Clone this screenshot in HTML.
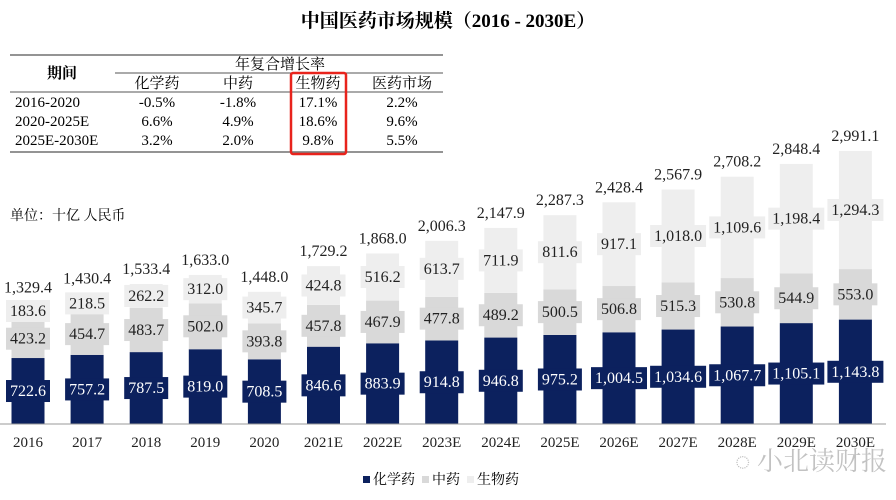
<!DOCTYPE html>
<html><head><meta charset="utf-8"><style>
body{margin:0;width:896px;height:495px;background:#fff;overflow:hidden;font-family:"Liberation Serif","Noto Serif CJK SC",serif;}
svg text{font-family:"Liberation Serif","Noto Serif CJK SC",serif;}
</style></head><body>
<svg width="896" height="495" id="c">
<text x="448" y="27" text-anchor="middle" font-size="19" font-weight="bold">中国医药市场规模（2016 - 2030E）</text>
<g font-size="15">
<line x1="10" y1="55" x2="443" y2="55" stroke="#555" stroke-width="1.2"/>
<line x1="115" y1="73" x2="443" y2="73" stroke="#555" stroke-width="1"/>
<line x1="10" y1="92" x2="443" y2="92" stroke="#555" stroke-width="1"/>
<line x1="10" y1="152" x2="443" y2="152" stroke="#555" stroke-width="1.2"/>
<text x="62" y="78" text-anchor="middle" font-weight="bold">期间</text>
<text x="280" y="69" text-anchor="middle">年复合增长率</text>
<text x="157" y="88" text-anchor="middle">化学药</text>
<text x="238" y="88" text-anchor="middle">中药</text>
<text x="318" y="88" text-anchor="middle">生物药</text>
<text x="402" y="88" text-anchor="middle">医药市场</text>
<text x="15" y="107">2016-2020</text><text x="157" y="107" text-anchor="middle">-0.5%</text><text x="238" y="107" text-anchor="middle">-1.8%</text><text x="318" y="107" text-anchor="middle">17.1%</text><text x="402" y="107" text-anchor="middle">2.2%</text>
<text x="15" y="126">2020-2025E</text><text x="157" y="126" text-anchor="middle">6.6%</text><text x="238" y="126" text-anchor="middle">4.9%</text><text x="318" y="126" text-anchor="middle">18.6%</text><text x="402" y="126" text-anchor="middle">9.6%</text>
<text x="15" y="145">2025E-2030E</text><text x="157" y="145" text-anchor="middle">3.2%</text><text x="238" y="145" text-anchor="middle">2.0%</text><text x="318" y="145" text-anchor="middle">9.8%</text><text x="402" y="145" text-anchor="middle">5.5%</text>
<rect x="291" y="73" width="55" height="81" rx="2" fill="none" stroke="#e8231c" stroke-width="2.5"/>
</g>
<text x="10" y="220" font-size="14">单位：十亿 人民币</text>
<g id="bars"></g>
<line x1="0" y1="424" x2="886" y2="424" stroke="#999" stroke-width="1"/>
<g font-size="14">
<rect x="363" y="476" width="7" height="7" fill="#0c215e"/><text x="373" y="484">化学药</text>
<rect x="422" y="476" width="7" height="7" fill="#d9d9d9"/><text x="432" y="484">中药</text>
<rect x="467" y="476" width="7" height="7" fill="#eeeeee"/><text x="477" y="484">生物药</text>
</g>
<text x="735" y="470" font-size="26" fill="#999" fill-opacity="0.6" font-family="Liberation Sans,Noto Sans CJK SC,sans-serif">◌ 小北读财报</text>
</svg>
<script>
const categories=["2016","2017","2018","2019","2020","2021E","2022E","2023E","2024E","2025E","2026E","2027E","2028E","2029E","2030E"];
const chem=[722.6,757.2,787.5,819.0,708.5,846.6,883.9,914.8,946.8,975.2,1004.5,1034.6,1067.7,1105.1,1143.8];
const tcm=[423.2,454.7,483.7,502.0,393.8,457.8,467.9,477.8,489.2,500.5,506.8,515.3,530.8,544.9,553.0];
const bio=[183.6,218.5,262.2,312.0,345.7,424.8,516.2,613.7,711.9,811.6,917.1,1018.0,1109.6,1198.4,1294.3];
const totals=[1329.4,1430.4,1533.4,1633.0,1448.0,1729.2,1868.0,2006.3,2147.9,2287.3,2428.4,2567.9,2708.2,2848.4,2991.1];
const base=424,k=0.0913,bw=33;
const y=v=>base-v*k, xc=i=>28+59.1*i;
const fmt=v=>v.toLocaleString('en-US',{minimumFractionDigits:1,maximumFractionDigits:1});
const g=document.getElementById('bars'),NS='http://www.w3.org/2000/svg';
function mk(t,a){const e=document.createElementNS(NS,t);for(const q in a)e.setAttribute(q,a[q]);g.appendChild(e);return e;}
function lbl(cx,cy,v,fill,tc){
 const w=v>=1000?56:44;
 const r=mk('rect',{x:cx-w/2,y:cy-11,width:w,height:22,fill:fill});
 
 
 const t=mk('text',{x:cx,y:cy+5,'text-anchor':'middle','font-size':16,fill:tc});
 t.textContent=fmt(v);
 
 
}
categories.forEach((c,i)=>{
 const cx=xc(i);
 const segs=[[0,chem[i],'#0c215e','#fff','bar-chemical'],[chem[i],chem[i]+tcm[i],'#d9d9d9','#222','bar-tcm'],[chem[i]+tcm[i],chem[i]+tcm[i]+bio[i],'#eeeeee','#222','bar-bio']];
 segs.forEach(s=>{
  const r=mk('rect',{x:cx-bw/2,y:y(s[1]),width:bw,height:y(s[0])-y(s[1]),fill:s[2]});
  
  
 });
 segs.forEach((s,j)=>lbl(cx,(y(s[0])+y(s[1]))/2,[chem,tcm,bio][j][i],s[2],s[3]));
 const tt=mk('text',{x:cx,y:y(totals[i])-10,'text-anchor':'middle','font-size':16,fill:'#222'});
 tt.textContent=fmt(totals[i]);
 
 
 const xl=mk('text',{x:cx,y:447,'text-anchor':'middle','font-size':15,fill:'#222'});
 xl.textContent=c;
 
 
});
</script>
</body></html>
